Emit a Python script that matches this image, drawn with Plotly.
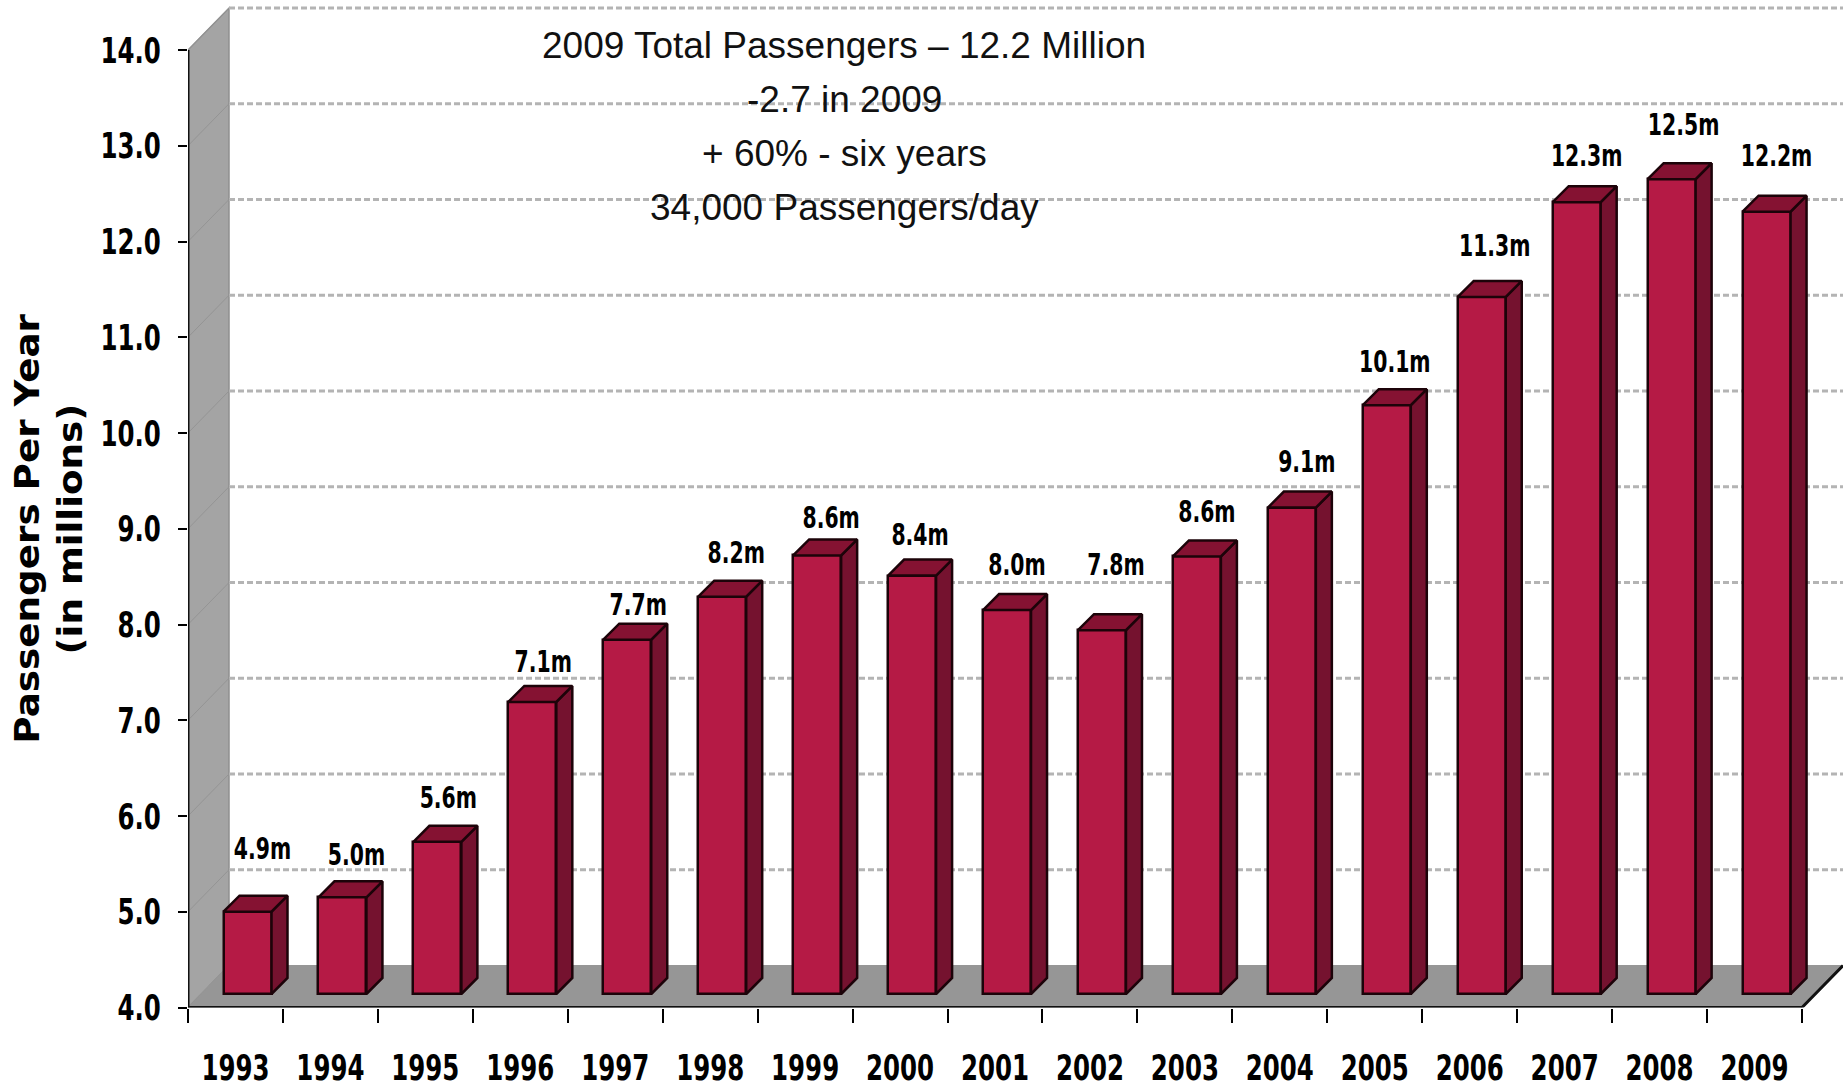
import plotly.graph_objects as go

years = list(range(1993, 2010))
passengers = [4.86, 5.01, 5.59, 7.05, 7.70, 8.15, 8.58, 8.37, 8.01, 7.80, 8.57, 9.08, 10.15, 11.28, 12.27, 12.51, 12.17]
value_labels = ["4.9m", "5.0m", "5.6m", "7.1m", "7.7m", "8.2m", "8.6m", "8.4m", "8.0m", "7.8m",
                "8.6m", "9.1m", "10.1m", "11.3m", "12.3m", "12.5m", "12.2m"]
y_ticks = [4, 5, 6, 7, 8, 9, 10, 11, 12, 13, 14]
notes = ["2009 Total Passengers – 12.2 Million", "-2.7 in 2009", "+ 60% - six years", "34,000 Passengers/day"]
y_title_lines = ["Passengers Per Year", "(in millions)"]
# hand placement of the value labels relative to their bars, in pixels
label_dx_px = [15, 14, 11, 11, 11, 14, 14, 8, 10, 14, 10, 15, 8, 13, 10, 12, 10]
label_dy_px = [60, 40, 41, 37, 32, 41, 35, 38, 43, 63, 42, 43, 41, 48, 44, 52, 53]

W, H = 1843, 1085
X0, X17, XR = 188, 1802, 1843
Y4, Y14, YT = 1007.5, 50, 6
PX_CAT = (X17 - X0) / 17
PX_VAL = (Y4 - Y14) / 10
xmax = 17 + (XR - X17) / PX_CAT
ymax = 14 + (Y14 - YT) / PX_VAL
wall_dx = 41 / PX_CAT
wall_dy = 42 / PX_VAL
bar_left = 35.5 / PX_CAT
bar_w = 48 / PX_CAT
bar_base = 4 + 13.5 / PX_VAL
d_dx = 16 / PX_CAT
d_dy = 16 / PX_VAL

FRONT, SIDE, TOP = "#b51a45", "#75122f", "#851232"
EDGE = "#1c0309"
FONT = "DejaVu Sans"

fig = go.Figure()


def path(xs, ys):
    return "M" + " L".join(f"{x},{y}" for x, y in zip(xs, ys)) + " Z"


shapes = [
    dict(type="path", xref="x", yref="y", layer="below",
         path=path([0, wall_dx, wall_dx, 0], [4, 4 + wall_dy, 14 + wall_dy, 14]),
         fillcolor="#a4a4a4", line=dict(color="#8f8f8f", width=1.5)),
    dict(type="path", xref="x", yref="y", layer="below",
         path=path([0, 17, 17 + wall_dx, wall_dx], [4, 4, 4 + wall_dy, 4 + wall_dy]),
         fillcolor="#969696", line=dict(color="#969696", width=1)),
]
for t in y_ticks[1:]:
    shapes.append(dict(type="line", xref="x", yref="y", layer="below", x0=wall_dx, x1=xmax,
                       y0=t + wall_dy, y1=t + wall_dy, line=dict(color="#b4b4b4", width=3, dash="6px,3px")))
    shapes.append(dict(type="line", xref="x", yref="y", layer="below", x0=0, x1=wall_dx,
                       y0=t, y1=t + wall_dy, line=dict(color="#949494", width=1)))


def poly(xs, ys, fill, line, width=1):
    fig.add_trace(go.Scatter(x=xs, y=ys, mode="lines", fill="toself" if fill else "none", fillcolor=fill,
                             line=dict(color=line, width=width), hoverinfo="skip", showlegend=False))


# bars: front face via bar trace, depth faces derived from the same values
fig.add_trace(go.Bar(x=[i + bar_left + bar_w / 2 for i in range(len(years))],
                     y=[v - 4 for v in passengers],
                     base=bar_base, width=bar_w,
                     marker=dict(color=FRONT, line=dict(color=EDGE, width=2.5)),
                     hovertext=[str(y) for y in years], showlegend=False))
sx, sy, tx, ty = [], [], [], []
for i, v in enumerate(passengers):
    l = i + bar_left
    r = l + bar_w
    top = v + (bar_base - 4)
    sx += [r, r + d_dx, r + d_dx, r, r, None]
    sy += [bar_base, bar_base + d_dy, top + d_dy, top, bar_base, None]
    tx += [l, l + d_dx, r + d_dx, r, l, None]
    ty += [top, top + d_dy, top + d_dy, top, top, None]
poly(sx, sy, SIDE, EDGE, 2.5)
poly(tx, ty, TOP, EDGE, 2.5)

# axis lines
poly([0, 0, 17, 17 + wall_dx], [14, 4, 4, 4 + wall_dy], None, "#111111", 3)

# value labels
fig.add_trace(go.Scatter(
    x=[i + bar_left + bar_w / 2 + dx / PX_CAT for i, dx in enumerate(label_dx_px)],
    y=[v + (bar_base - 4) + dy / PX_VAL for v, dy in zip(passengers, label_dy_px)],
    text=value_labels, mode="text", textposition="middle center",
    textfont=dict(family=FONT, size=30, color="black", weight="bold"),
    hoverinfo="skip", showlegend=False))

note_y_px = [45, 99, 153, 207]
annotations = [dict(x=(844 - X0) / PX_CAT, y=4 + (Y4 - py) / PX_VAL, text=t, showarrow=False,
                    xanchor="center", yanchor="middle",
                    font=dict(family="Liberation Sans", size=37, color="#111111"))
               for t, py in zip(notes, note_y_px)]
for t, px in zip(y_title_lines, [27, 70]):
    annotations.append(dict(xref="paper", yref="paper", x=px / W, y=(H - 529) / H, text=t, showarrow=False,
                            textangle=-90, xanchor="center", yanchor="middle",
                            font=dict(family=FONT, size=33, color="black", weight="bold")))

fig.update_layout(
    width=W, height=H, margin=dict(l=0, r=0, t=0, b=0), autosize=False,
    paper_bgcolor="white", plot_bgcolor="rgba(0,0,0,0)", showlegend=False,
    annotations=annotations, shapes=shapes, bargap=0,
    xaxis=dict(automargin=False, domain=[X0 / W, 1], range=[0, xmax], showgrid=False, zeroline=False, showline=False,
               tickmode="array", tickvals=[i + 0.5 for i in range(len(years))], ticktext=[str(y) for y in years],
               ticks="", ticklen=0, ticklabelstandoff=35, tickangle=0,
               tickfont=dict(family=FONT, size=36, color="black", weight="bold"),
               minor=dict(tickmode="array", tickvals=list(range(len(years) + 1)), ticks="outside",
                          ticklen=14, tickwidth=2, tickcolor="black", showgrid=False)),
    yaxis=dict(automargin=False, domain=[(H - Y4) / H, (H - YT) / H], range=[4, ymax], showgrid=False, zeroline=False,
               showline=False, tickmode="array", tickvals=y_ticks, ticktext=[f"{t:.1f}" for t in y_ticks],
               ticks="outside", ticklen=9, tickwidth=2, tickcolor="black", ticklabelstandoff=10,
               tickfont=dict(family=FONT, size=36, color="black", weight="bold")),
)
# The reference's bold labels are squeezed (title stretched): keep real text, rescale the glyphs.
squeeze = """
document.body.style.margin='0';document.body.style.overflow='hidden';
function fit(t,k){var l=t.getComputedTextLength();
  t.setAttribute('lengthAdjust','spacingAndGlyphs');t.setAttribute('textLength',(l*k).toFixed(1));}
document.querySelectorAll('.xtick text, .ytick text, .textpoint text').forEach(function(t){fit(t,0.68);});
document.querySelectorAll('.annotation-text').forEach(function(t){
  if(t.textContent==='Passengers Per Year'||t.textContent==='(in millions)'){fit(t,1.13);}
});
"""
fig.write_html("out.html", config={"displayModeBar": False}, post_script=squeeze)
